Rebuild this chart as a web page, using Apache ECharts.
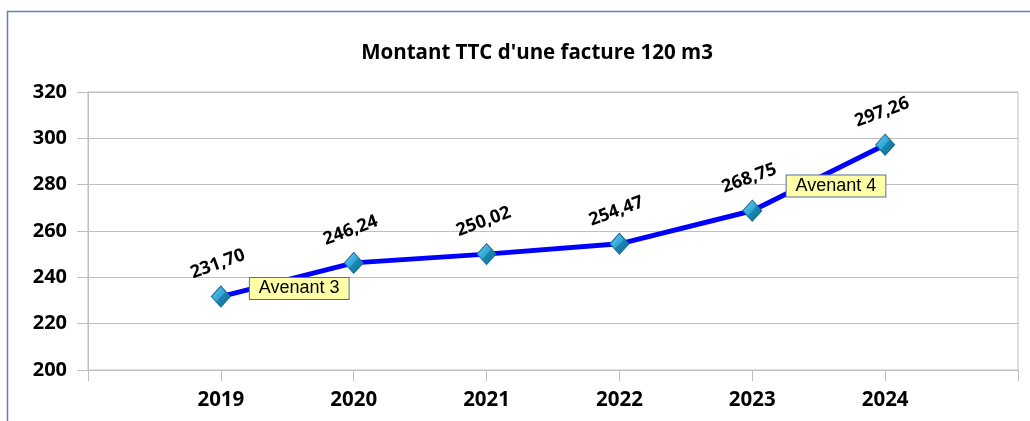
<!DOCTYPE html>
<html>
<head>
<meta charset="utf-8">
<script src="https://cdn.jsdelivr.net/npm/echarts@6/dist/echarts.min.js"></script>
<style>
html, body { margin: 0; padding: 0; background: #fff; overflow: hidden; }
#main { width: 1030px; height: 421px; }
</style>
</head>
<body>
<div id="main"></div>
<script>
var years = ['2019', '2020', '2021', '2022', '2023', '2024']
var montants = [231.70, 246.24, 250.02, 254.47, 268.75, 297.26]
var yTicks = { min: 200, max: 320, step: 20 }
// encadrés "Avenant" : libellé, année (fractionnaire), montant
var avenants = [
  ['Avenant 3', 2019.59, 235.2],
  ['Avenant 4', 2023.63, 279.4]
]

var chart = echarts.init(document.getElementById('main'))
var grey = '#BFBFBF'
var font = 'Open Sans'

var option = {
  animation: false,
  textStyle: { fontFamily: font },
  title: {
    text: "Montant TTC d'une facture 120 m3",
    left: 532,
    top: 38,
    textAlign: 'center',
    textStyle: { fontFamily: font, fontWeight: 'bold', fontSize: 20.5, color: '#000' }
  },
  graphic: [{
    type: 'rect',
    silent: true,
    shape: { x: 7.5, y: 11.5, width: 1200, height: 1000 },
    style: { fill: 'none', stroke: '#5B82B8', lineWidth: 1.5 }
  }],
  grid: {
    left: 88, right: 12, top: 92, bottom: 51,
    show: true, borderColor: grey, borderWidth: 1
  },
  xAxis: {
    type: 'value',
    min: +years[0] - 1,
    max: +years[years.length - 1] + 1,
    interval: 1,
    splitLine: { show: false },
    axisLine: { show: true, lineStyle: { color: grey } },
    axisTick: { show: true, length: 11, lineStyle: { color: grey } },
    axisLabel: {
      margin: 20,
      fontFamily: font, fontWeight: 'bold', fontSize: 20.5, color: '#000',
      formatter: function (v) { return years.indexOf(String(v)) >= 0 ? String(v) : '' }
    }
  },
  yAxis: {
    type: 'value',
    min: yTicks.min,
    max: yTicks.max,
    interval: yTicks.step,
    splitLine: { lineStyle: { color: grey } },
    axisLine: { show: true, lineStyle: { color: grey } },
    axisTick: { show: true, length: 11, lineStyle: { color: grey } },
    axisLabel: {
      margin: 21,
      fontFamily: font, fontWeight: 'bold', fontSize: 20, color: '#000'
    }
  },
  series: [{
    type: 'line',
    data: years.map(function (y, i) { return [+y, montants[i]] }),
    lineStyle: { color: '#0000FF', width: 5 },
    symbol: 'diamond',
    symbolSize: [19, 21],
    itemStyle: {
      color: new echarts.graphic.LinearGradient(0, 0, 1, 1, [
        { offset: 0, color: '#6FD0F2' },
        { offset: 0.5, color: '#2EA6D6' },
        { offset: 0.51, color: '#1B86B0' },
        { offset: 1, color: '#126E92' }
      ]),
      borderColor: '#1B6A90',
      borderWidth: 1
    },
    label: {
      show: true,
      position: 'top',
      distance: 13,
      rotate: 20,
      fontFamily: font, fontWeight: 'bold', fontSize: 18, color: '#000',
      formatter: function (p) { return p.value[1].toFixed(2).replace('.', ',') }
    },
    markPoint: {
      silent: true,
      symbol: 'rect',
      symbolSize: [1, 1],
      itemStyle: { color: 'rgba(0,0,0,0)' },
      label: {
        show: true,
        position: 'inside',
        fontFamily: 'Liberation Sans', fontSize: 18, color: '#000',
        backgroundColor: '#FFFFA8',
        borderColor: '#4F6F9F',
        borderWidth: 1,
        padding: [2, 9, 1, 9],
        formatter: function (p) { return p.name }
      },
      data: avenants.map(function (a) { return { name: a[0], coord: [a[1], a[2]] } })
    }
  }]
}

chart.setOption(option)
</script>
</body>
</html>
